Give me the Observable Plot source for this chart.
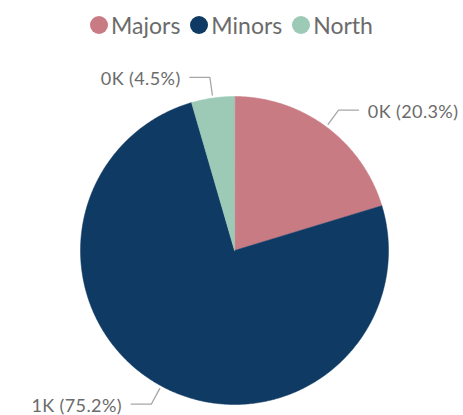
<!DOCTYPE html>
<html>
<head>
<meta charset="utf-8">
<script src="https://cdn.jsdelivr.net/npm/d3@7"></script>
<script src="https://cdn.jsdelivr.net/npm/@observablehq/plot@0.6"></script>
<style>
  html, body { margin: 0; padding: 0; background: #fff; }
  body { width: 463px; height: 415px; overflow: hidden; font-family: Lato, "Open Sans", sans-serif; }
  #legend { height: 45px; display: flex; justify-content: center; align-items: center; gap: 10px; padding-left: 0; box-sizing: border-box; padding-top: 4px; }
  .item { display: flex; align-items: center; gap: 3px; font-size: 23px; color: #6b6b6b; }
  .sw { width: 18px; height: 18px; border-radius: 50%; display: inline-block; }
  svg text { letter-spacing: 0.4px; }
</style>
</head>
<body>
<div id="legend"></div>
<div id="chart"></div>
<script>
const categories = ["Majors", "Minors", "North"];
const values = [0.203, 0.752, 0.045];
const valueLabels = ["0K (20.3%)", "1K (75.2%)", "0K (4.5%)"];
const colors = ["#c97b84", "#0e3a63", "#9ccab7"];

// legend
const legend = document.getElementById("legend");
categories.forEach((c, i) => {
  const it = document.createElement("div");
  it.className = "item";
  const sw = document.createElement("span");
  sw.className = "sw";
  sw.style.background = colors[i];
  it.appendChild(sw);
  const t = document.createElement("span");
  t.textContent = c;
  it.appendChild(t);
  legend.appendChild(it);
});

const data = categories.map((name, i) => ({name, value: values[i], label: valueLabels[i]}));
const arcs = d3.pie().value(d => d.value).sort(null)(data);

// slice polygons in unit-circle coordinates
const slicePts = [];
for (const a of arcs) {
  slicePts.push({name: a.data.name, x: 0, y: 0});
  const n = Math.max(2, Math.ceil((a.endAngle - a.startAngle) / 0.01));
  for (let k = 0; k <= n; k++) {
    const t = a.startAngle + (a.endAngle - a.startAngle) * k / n;
    slicePts.push({name: a.data.name, x: Math.sin(t), y: Math.cos(t)});
  }
}

// leader lines and label anchors
const leaderPts = [];
const labels = [];
const hLen = 0.13;
for (const a of arcs) {
  const m = (a.startAngle + a.endAngle) / 2;
  const sx = Math.sin(m), sy = Math.cos(m);
  const side = sx >= 0 ? 1 : -1;
  const ex = sx * 1.135, ey = sy * 1.135;
  leaderPts.push({name: a.data.name, x: sx * 1.02, y: sy * 1.02});
  leaderPts.push({name: a.data.name, x: ex, y: ey});
  leaderPts.push({name: a.data.name, x: ex + side * hLen, y: ey});
  labels.push({label: a.data.label, x: ex + side * (hLen + 0.06), y: ey, anchor: side > 0 ? "start" : "end"});
}

const cx = 234, cy = 205, R = 154;
const chart = Plot.plot({
  width: 463,
  height: 370,
  margin: 0,
  x: {domain: [-1, 1], range: [cx - R, cx + R], axis: null},
  y: {domain: [-1, 1], range: [cy + R, cy - R], axis: null},
  color: {domain: categories, range: colors},
  style: {fontFamily: "Lato, 'Open Sans', sans-serif", background: "#fff"},
  marks: [
    Plot.line(slicePts, {x: "x", y: "y", z: "name", fill: "name", stroke: "name", strokeWidth: 0.5, curve: "linear-closed"}),
    Plot.line(leaderPts, {x: "x", y: "y", z: "name", stroke: "#a6a6a6", strokeWidth: 1.3}),
    Plot.text(labels.filter(d => d.anchor === "start"), {x: "x", y: "y", text: "label", textAnchor: "start", fontSize: 18, fill: "#6b6b6b", dy: 2}),
    Plot.text(labels.filter(d => d.anchor === "end"), {x: "x", y: "y", text: "label", textAnchor: "end", fontSize: 18, fill: "#6b6b6b", dy: 2})
  ]
});
document.getElementById("chart").appendChild(chart);
</script>
</body>
</html>
